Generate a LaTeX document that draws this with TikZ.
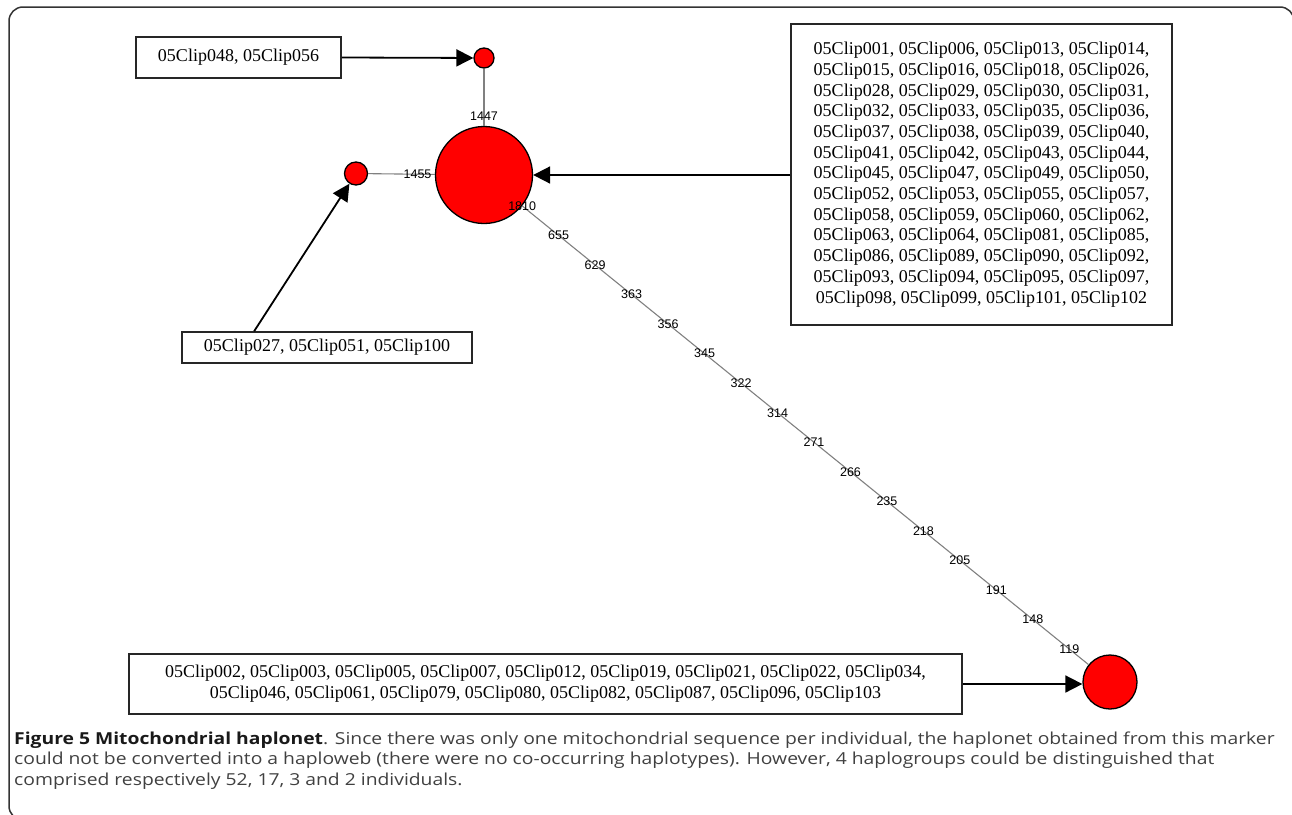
\documentclass[tikz,border=0pt]{standalone}
\usepackage{fontspec}
\setmainfont{Liberation Serif}
\newfontfamily\numfont{Liberation Sans}
\newfontfamily\capfont[FakeStretch=1.17]{Open Sans}
\usetikzlibrary{arrows.meta,calc}

\begin{document}
\begin{tikzpicture}[x=1pt,y=-1pt,
		hap/.style={circle,draw=black,line width=1.3pt,fill=red,inner sep=0pt},
		clips/.style={draw=black!85,line width=1.5pt,align=center,inner sep=0pt,
				font=\fontsize{18}{20.7}\selectfont},
		link/.style={draw=black!50,line width=1.1pt},
		mut/.style={font=\numfont\fontsize{12.5}{13}\selectfont,inner sep=0pt},
		pointer/.style={draw=black,line width=1.8pt,-{Triangle[length=17pt,width=17pt]}}]
			\useasboundingbox (0,0) rectangle (1292,814);

			% Frame
			\draw[black!80,line width=1.5pt,rounded corners=14pt]
				(1294,30) -- (1294,7) -- (9,7) -- (9,820) -- (30,820);

			% Haplotypes
			\node[hap,minimum size=97pt] (hapA) at (484,175) {};
			\node[hap,minimum size=20pt] (hapB) at (484,58) {};
			\node[hap,minimum size=23pt] (hapC) at (356,173.5) {};
			\node[hap,minimum size=54pt] (hapD) at (1110,682) {};

			% Links and mutations
			\draw[link] (hapB) -- node[mut,pos=0.83] {1447} (hapA);
			\draw[link] (hapC) -- node[mut,pos=0.74] {1455} (hapA);
			\draw[link] (hapA) -- (hapD);
			\foreach \m [count=\k from 0] in {1810,655,629,363,356,345,322,314,271,266,235,218,205,191,148,119} {
					\pgfmathsetmacro\p{0.0644*\k}
					\path (hapA) -- node[mut,pos=\p] {\m} (hapD);
				}

			% Individuals
			\node[clips,minimum width=205pt,minimum height=41pt] (listB) at (238.5,57.5)
				{05Clip048, 05Clip056};
			\node[clips,minimum width=381pt,minimum height=301pt] (listA) at (981.5,174.5)
				{05Clip001, 05Clip006, 05Clip013, 05Clip014,\\
				 05Clip015, 05Clip016, 05Clip018, 05Clip026,\\
				 05Clip028, 05Clip029, 05Clip030, 05Clip031,\\
				 05Clip032, 05Clip033, 05Clip035, 05Clip036,\\
				 05Clip037, 05Clip038, 05Clip039, 05Clip040,\\
				 05Clip041, 05Clip042, 05Clip043, 05Clip044,\\
				 05Clip045, 05Clip047, 05Clip049, 05Clip050,\\
				 05Clip052, 05Clip053, 05Clip055, 05Clip057,\\
				 05Clip058, 05Clip059, 05Clip060, 05Clip062,\\
				 05Clip063, 05Clip064, 05Clip081, 05Clip085,\\
				 05Clip086, 05Clip089, 05Clip090, 05Clip092,\\
				 05Clip093, 05Clip094, 05Clip095, 05Clip097,\\
				 05Clip098, 05Clip099, 05Clip101, 05Clip102};
			\node[clips,minimum width=290pt,minimum height=31pt] (listC) at (327,347.5)
				{05Clip027, 05Clip051, 05Clip100};
			\node[clips,minimum width=833pt,minimum height=60pt] (listD) at (545.5,684)
				{05Clip002, 05Clip003, 05Clip005, 05Clip007, 05Clip012, 05Clip019, 05Clip021, 05Clip022, 05Clip034,\\
				 05Clip046, 05Clip061, 05Clip079, 05Clip080, 05Clip082, 05Clip087, 05Clip096, 05Clip103};

			% Pointers
			\draw[pointer] (listB.east) -- (hapB);
			\draw[pointer] (listA.west |- hapA) -- (hapA);
			\draw[pointer] ($(listC.north west)!0.25!(listC.north east)$) -- (hapC);
			\draw[pointer] (listD.east) -- (listD.east -| hapD.west);

			% Caption
			\node[anchor=north west,inner sep=0pt,align=left,text=black!75,
				font=\capfont\fontsize{16.5}{20.5}\selectfont] (caption) at (14,731.5)
				{\textcolor{black!90}{\textbf{Figure 5 Mitochondrial haplonet}}. Since there was only one mitochondrial sequence per individual, the haplonet obtained from this marker\\
				 could not be converted into a haploweb (there were no co-occurring haplotypes). However, 4 haplogroups could be distinguished that\\
				 comprised respectively 52, 17, 3 and 2 individuals.};

		\end{tikzpicture}
\end{document}
